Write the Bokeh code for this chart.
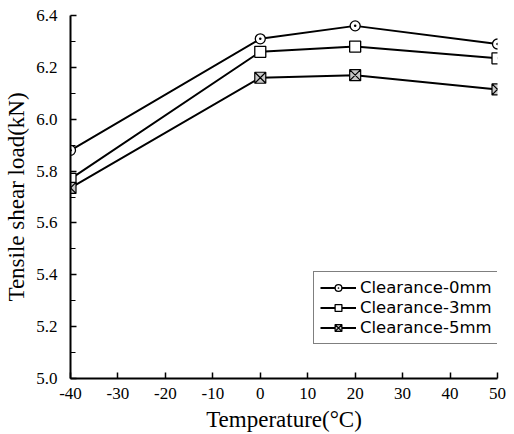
from bokeh.plotting import figure
from bokeh.models import FixedTicker, PrintfTickFormatter, Range1d, Legend, LegendItem
from bokeh.embed import file_html
from bokeh.resources import INLINE

temps = [-40, 0, 20, 50]
load_0mm = [5.88, 6.31, 6.36, 6.29]
load_3mm = [5.77, 6.26, 6.28, 6.235]
load_5mm = [5.735, 6.16, 6.17, 6.115]
x_ticks = [-40, -30, -20, -10, 0, 10, 20, 30, 40, 50]
y_ticks = [5.0, 5.2, 5.4, 5.6, 5.8, 6.0, 6.2, 6.4]
y_minor = [5.1, 5.3, 5.5, 5.7, 5.9, 6.1, 6.3]
labels = ["Clearance-0mm", "Clearance-3mm", "Clearance-5mm"]

SERIF = "Liberation Serif"

p = figure(width=510, height=434, output_backend="svg", toolbar_location=None,
           x_range=Range1d(-40, 50), y_range=Range1d(5.0, 6.4),
           min_border_left=70, min_border_right=13, min_border_top=15, min_border_bottom=55)
p.outline_line_color = None
p.grid.grid_line_color = None

r0 = p.line(temps, load_0mm, line_color="black", line_width=2)
m0 = p.scatter(temps, load_0mm, marker="circle_dot", size=10, fill_color="white",
               line_color="black", line_width=1.3)
r1 = p.line(temps, load_3mm, line_color="black", line_width=2)
m1 = p.scatter(temps, load_3mm, marker="square", size=11, fill_color="white",
               line_color="black", line_width=1.3)
r2 = p.line(temps, load_5mm, line_color="black", line_width=2)
m2 = p.scatter(temps, load_5mm, marker="square_x", size=11, fill_color="#c8c8c8",
               line_color="black", line_width=1.2)

for ax in (p.xaxis, p.yaxis):
    ax.axis_line_width = 2
    ax.axis_line_color = "black"
    ax.major_tick_in = 6
    ax.major_tick_out = 0
    ax.major_tick_line_width = 1.5
    ax.minor_tick_in = 5
    ax.minor_tick_out = 0
    ax.major_label_text_font = SERIF
    ax.major_label_text_font_size = "17px"
    ax.major_label_text_color = "black"
    ax.axis_label_text_font = SERIF
    ax.axis_label_text_font_size = "23px"
    ax.axis_label_text_font_style = "normal"
    ax.axis_label_text_color = "black"

p.xaxis.ticker = FixedTicker(ticks=x_ticks)
p.xaxis.formatter = PrintfTickFormatter(format="%d")
p.yaxis.ticker = FixedTicker(ticks=y_ticks, minor_ticks=y_minor)
p.yaxis.formatter = PrintfTickFormatter(format="%.1f")
p.xaxis.axis_label = "Temperature(°C)"
p.yaxis.axis_label = "Tensile shear load(kN)"
p.xaxis.major_label_standoff = 9
p.yaxis.major_label_standoff = 13
p.xaxis.axis_label_standoff = 5
p.yaxis.axis_label_standoff = 4

legend = Legend(items=[LegendItem(label=labels[0], renderers=[r0, m0]),
                       LegendItem(label=labels[1], renderers=[r1, m1]),
                       LegendItem(label=labels[2], renderers=[r2, m2])],
                location=(243, 34))
legend.border_line_color = "black"
legend.border_line_width = 1.5
legend.background_fill_color = "white"
legend.label_text_font = "DejaVu Sans"
legend.label_text_font_size = "16.5px"
legend.label_text_color = "black"
legend.glyph_width = 36
legend.glyph_height = 17
legend.label_height = 17
legend.spacing = 1
legend.padding = 6
legend.margin = 0
legend.label_standoff = 4
p.add_layout(legend, "center")

open("out.html", "w").write(file_html(p, INLINE))
